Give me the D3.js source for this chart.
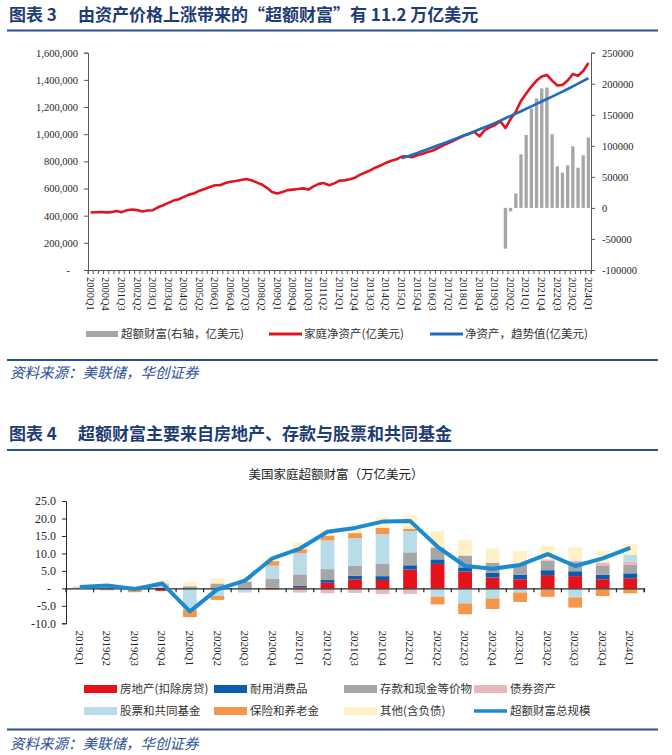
<!DOCTYPE html>
<html>
<head>
<meta charset="utf-8">
<script src="https://cdn.jsdelivr.net/npm/d3@7"></script>
<style>
body { margin: 0; background: #fff; }
text { font-family: "Liberation Serif", "Times New Roman", serif; }
.cn { font-family: "Noto Sans CJK SC", sans-serif; }
</style>
</head>
<body>
<div class="container"></div>
<script>
const WIDTH = 672;
const HEIGHT = 755;

// ---- chart 1 data (亿美元) ----
var startYear1 = 2000;
var endYear1 = 2024;
var netWorth = [
  423000, 425000, 427000, 424000,
  426000, 435000, 426000, 440000,
  445000, 441000, 431000, 438000,
  440000, 462000, 477000, 494000,
  511000, 521000, 538000, 555000,
  565000, 584000, 597000, 611000,
  624000, 624000, 641000, 650000,
  655000, 663000, 670000, 661000,
  645000, 630000, 605000, 575000,
  563000, 575000, 588000, 592000,
  596000, 601000, 592000, 616000,
  634000, 640000, 624000, 638000,
  658000, 660000, 668000, 680000,
  702000, 718000, 735000, 755000,
  771000, 790000, 805000, 815000,
  835000, 838000, 830000, 845000,
  856000, 868000, 880000, 898000,
  918000, 935000, 952000, 972000,
  990000, 1002000, 1018000, 984000,
  1030000, 1050000, 1068000, 1096000,
  1045000, 1112000, 1165000, 1245000,
  1300000, 1350000, 1395000, 1425000,
  1436000, 1394000, 1358000, 1363000,
  1395000, 1443000, 1430000, 1465000,
  1524000
];
var trendStart = "2015Q1";
var trend = [
  822000, 835000, 849000, 862000,
  876000, 890000, 904000, 918000,
  932000, 946000, 961000, 975000,
  990000, 1005000, 1020000, 1036000,
  1051000, 1067000, 1083000, 1100000,
  1117000, 1134000, 1151000, 1169000,
  1187000, 1205000, 1223000, 1241000,
  1259000, 1277000, 1295000, 1314000,
  1333000, 1352000, 1372000, 1392000,
  1412000
];
var excessStart = "2020Q1";
var excess = [
  -65600, -5400, 23300, 86300, 117500, 160100, 176300, 192500, 194100,
  118600, 66900, 56700, 68500, 99200, 64800, 84700, 113300
];
var leftTicks = [0, 200000, 400000, 600000, 800000, 1000000, 1200000, 1400000, 1600000];
var rightTicks = [-100000, -50000, 0, 50000, 100000, 150000, 200000, 250000];

// ---- chart 2 data (万亿美元) ----
var quarters2 = ["2019Q1","2019Q2","2019Q3","2019Q4","2020Q1","2020Q2","2020Q3","2020Q4",
  "2021Q1","2021Q2","2021Q3","2021Q4","2022Q1","2022Q2","2022Q3","2022Q4",
  "2023Q1","2023Q2","2023Q3","2023Q4","2024Q1"];
var realEstate = [0, 0, 0, -0.7, 0, 0, 0, 0.1, 0.3, 1.6, 2.6, 2.4, 5.4, 7.0, 4.8, 3.1, 2.6, 3.8, 3.5, 2.6, 2.9];
var durables   = [0, 0, 0, 0, 0, 0, 0, 0.1, 0.4, 0.8, 1.0, 1.1, 1.2, 1.3, 1.2, 1.3, 1.3, 1.4, 1.4, 1.3, 1.4];
var deposits   = [0.2, -0.4, -0.3, 0.3, 0.6, 1.4, 1.9, 2.5, 3.3, 3.1, 2.9, 3.6, 3.7, 3.4, 3.4, 2.9, 2.8, 2.7, 2.6, 2.5, 2.4];
var bonds      = [0, -0.2, 0, 0, 0, 0, 0, -0.5, -1.2, -1.4, -1.3, -1.6, -1.6, 0, 0, 0, 0, 0.4, 0.4, 1.0, 1.0];
var equities   = [0.3, 0.6, 0.5, 0.8, -6.2, -2.2, -1.2, 3.8, 6.0, 8.2, 7.9, 8.4, 6.1, -2.4, -4.3, -2.9, -1.2, -0.3, -2.6, -0.3, 1.9];
var pensions   = [0, 0, -0.8, 0.3, -2.0, -1.1, 0, 1.3, 1.2, 1.4, 1.4, 1.8, 0.6, -2.2, -3.1, -3.0, -2.7, -2.1, -2.9, -1.9, -1.4];
var others     = [0.4, 0.3, 0.3, 0.9, 1.2, 1.5, 1.2, 1.4, 1.9, 1.6, 1.2, 3.1, 3.9, 4.7, 4.4, 4.1, 4.0, 3.9, 3.8, 3.3, 3.1];
var totalExcess = [0.4, 0.8, -0.2, 1.4, -6.6, -0.3, 2.2, 8.6, 11.4, 16.2, 17.3, 19.1, 19.3, 11.9, 6.4, 5.6, 6.7, 9.8, 6.4, 8.6, 11.6];
var y2Ticks = [-10, -5, 0, 5, 10, 15, 20, 25];

var seriesNames = ["房地产(扣除房贷)", "耐用消费品", "存款和现金等价物", "债券资产",
  "股票和共同基金", "保险和养老金", "其他(含负债)"];
var seriesColors = ["#e5121b", "#0c5dae", "#a6a6a6", "#e8b9ba", "#b8dde9", "#f5964a", "#fff0c6"];

var quarters1 = [];
for (var yr = startYear1; yr <= endYear1; yr++) {
  for (var q = 1; q <= 4; q++) {
    if (yr == endYear1 && q > 1) break;
    quarters1.push(yr + "Q" + q);
  }
}

var translate = function (x, y) {
  return "translate(" + x + "," + y + ")";
};

var svg = d3.select('.container').append('svg')
  .attr('width', WIDTH)
  .attr('height', HEIGHT);

var header = function (num, title, yTitle, yLine) {
  svg.append('text').attr('class', 'cn')
    .attr('x', 9).attr('y', yTitle)
    .attr('font-size', 17).attr('font-weight', 700).attr('fill', '#1f3c74')
    .text('图表 ' + num);
  svg.append('text').attr('class', 'cn')
    .attr('x', 78).attr('y', yTitle)
    .attr('font-size', 17).attr('font-weight', 700).attr('fill', '#1f3c74')
    .text(title);
  svg.append('line')
    .attr('x1', 7).attr('x2', 658).attr('y1', yLine).attr('y2', yLine)
    .attr('stroke', '#2b4f96').attr('stroke-width', 2);
};

var footer = function (yLine, yText) {
  svg.append('line')
    .attr('x1', 7).attr('x2', 658).attr('y1', yLine).attr('y2', yLine)
    .attr('stroke', '#2b4f96').attr('stroke-width', 2);
  svg.append('text').attr('class', 'cn')
    .attr('x', 10).attr('y', yText)
    .attr('font-size', 14.5).attr('font-style', 'italic').attr('fill', '#2c4f98')
    .text('资料来源：美联储，华创证券');
};

// ================= chart 1 =================
header(3, '由资产价格上涨带来的“超额财富”有 11.2 万亿美元', 20.5, 30.5);

var X1L = 88, X1R = 591, Y1T = 52.7, Y1B = 270;

var x1 = d3.scaleBand()
  .domain(quarters1)
  .range([X1L, X1R])
  .paddingInner(0.36)
  .paddingOuter(0.18);
var step1 = x1.step();
var cx1 = function (q) { return x1(q) + x1.bandwidth() / 2; };

var yL = d3.scaleLinear().domain([0, 1600000]).range([Y1B, Y1T]);
var yR = d3.scaleLinear().domain([-100000, 250000]).range([Y1B, Y1T]);

var leftAxis = d3.axisLeft(yL).tickValues(leftTicks).tickSize(4).tickPadding(6)
  .tickFormat(function (d) { return d == 0 ? '-' : d3.format(',')(d); });
var rightAxis = d3.axisRight(yR).tickValues(rightTicks).tickSize(4).tickPadding(7)
  .tickFormat(function (d) { return String(d); });

var gl = svg.append('g').attr('transform', translate(X1L, 0)).call(leftAxis);
var gr = svg.append('g').attr('transform', translate(X1R, 0)).call(rightAxis);
[gl, gr].forEach(function (g) {
  g.selectAll('text').attr('font-size', 10.5).attr('fill', '#262626')
    .style('font-family', '"Liberation Serif", serif');
  g.selectAll('line, path').attr('stroke', '#595959');
});
gl.selectAll('.tick text').filter(function (d) { return d == 0; }).attr('dx', -8);

var gb = svg.append('g').attr('transform', translate(0, Y1B))
  .call(d3.axisBottom(x1).tickSize(4).tickFormat(''));
gb.selectAll('.tick line').attr('x1', -step1 / 2).attr('x2', -step1 / 2);
gb.append('line').attr('x1', X1R).attr('x2', X1R).attr('y1', 0).attr('y2', 4);
gb.selectAll('line, path').attr('stroke', '#595959');

svg.append('g').selectAll('text')
  .data(quarters1.filter(function (d, i) { return i % 3 == 0; }))
  .enter().append('text')
  .attr('transform', function (d) { return translate(cx1(d), Y1B + 7) + ' rotate(90)'; })
  .attr('dy', '0.35em')
  .attr('font-size', 10.5)
  .attr('fill', '#262626')
  .text(function (d) { return d; });

// bars
var q0 = quarters1.indexOf(excessStart);
svg.append('g').selectAll('rect')
  .data(excess)
  .enter().append('rect')
  .attr('x', function (d, i) { return x1(quarters1[q0 + i]); })
  .attr('width', x1.bandwidth())
  .attr('y', function (d) { return yR(Math.max(0, d)); })
  .attr('height', function (d) { return Math.abs(yR(d) - yR(0)); })
  .attr('fill', '#a6a6a6');

var netLine = d3.line()
  .x(function (d, i) { return cx1(quarters1[i]); })
  .y(function (d) { return yL(d); });
svg.append('path')
  .attr('d', netLine(netWorth))
  .attr('fill', 'none')
  .attr('stroke', '#e0141e')
  .attr('stroke-width', 2.6)
  .attr('stroke-linejoin', 'round');

var t0 = quarters1.indexOf(trendStart);
var trendLine = d3.line()
  .x(function (d, i) { return cx1(quarters1[t0 + i]); })
  .y(function (d) { return yL(d); });
svg.append('path')
  .attr('d', trendLine(trend))
  .attr('fill', 'none')
  .attr('stroke', '#1f6bbd')
  .attr('stroke-width', 2.6)
  .attr('stroke-linejoin', 'round');

// legend 1
var leg1 = svg.append('g').attr('transform', translate(0, 334));
leg1.append('rect').attr('x', 86).attr('y', -3).attr('width', 32).attr('height', 6).attr('fill', '#a6a6a6');
leg1.append('line').attr('x1', 269).attr('x2', 302).attr('stroke', '#e0141e').attr('stroke-width', 3);
leg1.append('line').attr('x1', 430).attr('x2', 463).attr('stroke', '#1f6bbd').attr('stroke-width', 3);
[[121, '超额财富(右轴，亿美元)'], [304, '家庭净资产(亿美元)'], [465, '净资产，趋势值(亿美元)']]
  .forEach(function (t) {
    leg1.append('text').attr('class', 'cn').attr('x', t[0]).attr('dy', '0.35em')
      .attr('font-size', 11.5).attr('fill', '#333').text(t[1]);
  });

footer(360, 378);

// ================= chart 2 =================
header(4, '超额财富主要来自房地产、存款与股票和共同基金', 440, 450);

svg.append('text').attr('class', 'cn')
  .attr('x', 336).attr('y', 478.5)
  .attr('text-anchor', 'middle')
  .attr('font-size', 12.5).attr('fill', '#222')
  .text('美国家庭超额财富（万亿美元）');

var X2L = 66, X2R = 644, Y2T = 501, Y2B = 623.3;

var x2 = d3.scaleBand()
  .domain(quarters2)
  .range([X2L, X2R])
  .paddingInner(0.5)
  .paddingOuter(0.25);
var step2 = x2.step();

var y2 = d3.scaleLinear().domain([-10, 25]).range([Y2B, Y2T]);

var rows = quarters2.map(function (q, i) {
  return { q: q, s0: realEstate[i], s1: durables[i], s2: deposits[i], s3: bonds[i],
    s4: equities[i], s5: pensions[i], s6: others[i] };
});
var keys = ['s0', 's1', 's2', 's3', 's4', 's5', 's6'];
var stacked = d3.stack().keys(keys).offset(d3.stackOffsetDiverging)(rows);

svg.append('g').selectAll('g')
  .data(stacked)
  .enter().append('g')
  .attr('fill', function (d, i) { return seriesColors[i]; })
  .selectAll('rect')
  .data(function (d) { return d; })
  .enter().append('rect')
  .attr('x', function (d) { return x2(d.data.q); })
  .attr('width', x2.bandwidth())
  .attr('y', function (d) { return y2(Math.max(d[0], d[1])); })
  .attr('height', function (d) { return Math.abs(y2(d[0]) - y2(d[1])); });

var ga = svg.append('g').attr('transform', translate(X2L, 0))
  .call(d3.axisLeft(y2).tickValues(y2Ticks).tickSize(4).tickPadding(6)
    .tickFormat(function (d) { return d == 0 ? '-' : d.toFixed(1); }));
ga.selectAll('text').attr('font-size', 12).attr('fill', '#262626')
  .style('font-family', '"Liberation Serif", serif');
ga.selectAll('.tick text').filter(function (d) { return d == 0; }).attr('dx', -5);
ga.selectAll('line, path').attr('stroke', '#262626');

var gx = svg.append('g').attr('transform', translate(0, y2(0)))
  .call(d3.axisBottom(x2).tickSize(4).tickFormat(''));
gx.selectAll('.tick line').attr('x1', -step2 / 2).attr('x2', -step2 / 2);
gx.append('line').attr('x1', X2R).attr('x2', X2R).attr('y1', 0).attr('y2', 4);
gx.selectAll('line, path').attr('stroke', '#262626').attr('stroke-width', 1.2);

svg.append('g').selectAll('text')
  .data(quarters2)
  .enter().append('text')
  .attr('transform', function (d) { return translate(x2(d) + x2.bandwidth() / 2, 630.5) + ' rotate(90)'; })
  .attr('dy', '0.35em')
  .attr('font-size', 11)
  .attr('fill', '#262626')
  .text(function (d) { return d; });

var totalLine = d3.line()
  .x(function (d, i) { return x2(quarters2[i]) + x2.bandwidth() / 2; })
  .y(function (d) { return y2(d); });
svg.append('path')
  .attr('d', totalLine(totalExcess))
  .attr('fill', 'none')
  .attr('stroke', '#1a8bd0')
  .attr('stroke-width', 4)
  .attr('stroke-linejoin', 'round');

// legend 2
var legX = [84, 214, 344, 474];
var legY = [689, 711];
seriesNames.forEach(function (name, i) {
  var lx = legX[i % 4], ly = legY[Math.floor(i / 4)];
  svg.append('rect').attr('x', lx).attr('y', ly - 4).attr('width', 33).attr('height', 8)
    .attr('fill', seriesColors[i]);
  svg.append('text').attr('class', 'cn').attr('x', lx + 36).attr('y', ly).attr('dy', '0.35em')
    .attr('font-size', 11.5).attr('fill', '#333').text(name);
});
svg.append('line').attr('x1', legX[3]).attr('x2', legX[3] + 33)
  .attr('y1', legY[1]).attr('y2', legY[1])
  .attr('stroke', '#1a8bd0').attr('stroke-width', 3.5);
svg.append('text').attr('class', 'cn').attr('x', legX[3] + 36).attr('y', legY[1]).attr('dy', '0.35em')
  .attr('font-size', 11.5).attr('fill', '#333').text('超额财富总规模');

footer(729.5, 749);
</script>
</body>
</html>
